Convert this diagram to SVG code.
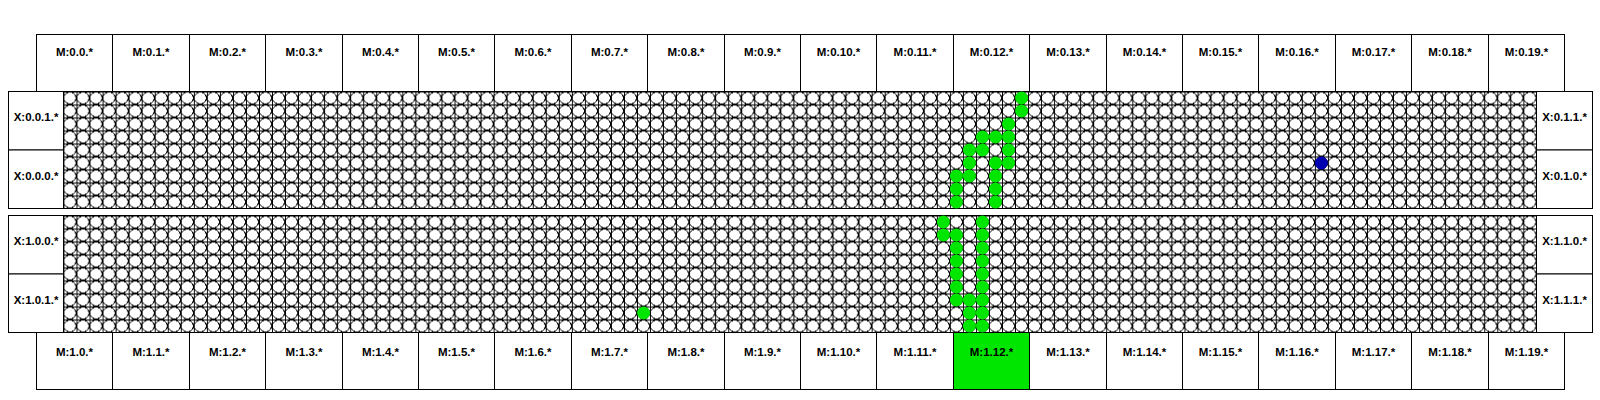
<svg xmlns="http://www.w3.org/2000/svg" xmlns:xlink="http://www.w3.org/1999/xlink" width="1600" height="400" viewBox="0 0 1600 400">
<style>
.box{fill:#fff;stroke:#000;stroke-width:1}
.hot{fill:#00e600;stroke:#000;stroke-width:1}
.lbl{font-family:"Liberation Sans",Arial,Helvetica,sans-serif;font-weight:bold;font-size:11.5px;fill:#000;text-anchor:middle}
.g{fill:#00e600}
.b{fill:#0000b0}
</style>
<defs>
<pattern id="cell" patternUnits="userSpaceOnUse" x="0" y="0" width="13.035" height="13">
<path d="M0 0H13.035M0 0V13" stroke="#000" stroke-width="2" fill="none" shape-rendering="crispEdges"/>
<circle cx="6.5175" cy="6.5" r="6" fill="#fff" stroke="#000" stroke-width="1" shape-rendering="crispEdges"/>
</pattern>
<rect id="gridrect" x="0" y="0" width="1473" height="117" fill="url(#cell)"/>
</defs>
<rect width="1600" height="400" fill="#fff"/>

<g id="chip0">
<rect class="box" x="8.5" y="91.5" width="1584" height="117"/>
<use xlink:href="#gridrect" href="#gridrect" transform="translate(63.5,91.5)"/>
</g>
<g id="chip1">
<rect class="box" x="8.5" y="215.5" width="1584" height="117"/>
<use xlink:href="#gridrect" href="#gridrect" transform="translate(63.5,215.5)"/>
</g>

<g id="X-0-0-1"><rect class="box" x="8.5" y="91.5" width="55" height="58.5"/><text class="lbl" x="36" y="121">X:0.0.1.*</text></g>
<g id="X-0-0-0"><rect class="box" x="8.5" y="150" width="55" height="58.5"/><text class="lbl" x="36" y="180">X:0.0.0.*</text></g>
<g id="X-0-1-1"><rect class="box" x="1536.5" y="91.5" width="56" height="58.5"/><text class="lbl" x="1564.5" y="121">X:0.1.1.*</text></g>
<g id="X-0-1-0"><rect class="box" x="1536.5" y="150" width="56" height="58.5"/><text class="lbl" x="1564.5" y="180">X:0.1.0.*</text></g>
<g id="X-1-0-0"><rect class="box" x="8.5" y="215.5" width="55" height="58.5"/><text class="lbl" x="36" y="245">X:1.0.0.*</text></g>
<g id="X-1-0-1"><rect class="box" x="8.5" y="274" width="55" height="58.5"/><text class="lbl" x="36" y="304">X:1.0.1.*</text></g>
<g id="X-1-1-0"><rect class="box" x="1536.5" y="215.5" width="56" height="58.5"/><text class="lbl" x="1564.5" y="245">X:1.1.0.*</text></g>
<g id="X-1-1-1"><rect class="box" x="1536.5" y="274" width="56" height="58.5"/><text class="lbl" x="1564.5" y="304">X:1.1.1.*</text></g>

<g id="M0">
<g id="M-0-0"><rect class="box" x="36.5" y="34.5" width="76" height="57"/><text class="lbl" x="74.5" y="55.5">M:0.0.*</text></g>
<g id="M-0-1"><rect class="box" x="112.5" y="34.5" width="77" height="57"/><text class="lbl" x="151" y="55.5">M:0.1.*</text></g>
<g id="M-0-2"><rect class="box" x="189.5" y="34.5" width="76" height="57"/><text class="lbl" x="227.5" y="55.5">M:0.2.*</text></g>
<g id="M-0-3"><rect class="box" x="265.5" y="34.5" width="77" height="57"/><text class="lbl" x="304" y="55.5">M:0.3.*</text></g>
<g id="M-0-4"><rect class="box" x="342.5" y="34.5" width="76" height="57"/><text class="lbl" x="380.5" y="55.5">M:0.4.*</text></g>
<g id="M-0-5"><rect class="box" x="418.5" y="34.5" width="76" height="57"/><text class="lbl" x="456.5" y="55.5">M:0.5.*</text></g>
<g id="M-0-6"><rect class="box" x="494.5" y="34.5" width="77" height="57"/><text class="lbl" x="533" y="55.5">M:0.6.*</text></g>
<g id="M-0-7"><rect class="box" x="571.5" y="34.5" width="76" height="57"/><text class="lbl" x="609.5" y="55.5">M:0.7.*</text></g>
<g id="M-0-8"><rect class="box" x="647.5" y="34.5" width="77" height="57"/><text class="lbl" x="686" y="55.5">M:0.8.*</text></g>
<g id="M-0-9"><rect class="box" x="724.5" y="34.5" width="76" height="57"/><text class="lbl" x="762.5" y="55.5">M:0.9.*</text></g>
<g id="M-0-10"><rect class="box" x="800.5" y="34.5" width="76" height="57"/><text class="lbl" x="838.5" y="55.5">M:0.10.*</text></g>
<g id="M-0-11"><rect class="box" x="876.5" y="34.5" width="77" height="57"/><text class="lbl" x="915" y="55.5">M:0.11.*</text></g>
<g id="M-0-12"><rect class="box" x="953.5" y="34.5" width="76" height="57"/><text class="lbl" x="991.5" y="55.5">M:0.12.*</text></g>
<g id="M-0-13"><rect class="box" x="1029.5" y="34.5" width="77" height="57"/><text class="lbl" x="1068" y="55.5">M:0.13.*</text></g>
<g id="M-0-14"><rect class="box" x="1106.5" y="34.5" width="76" height="57"/><text class="lbl" x="1144.5" y="55.5">M:0.14.*</text></g>
<g id="M-0-15"><rect class="box" x="1182.5" y="34.5" width="76" height="57"/><text class="lbl" x="1220.5" y="55.5">M:0.15.*</text></g>
<g id="M-0-16"><rect class="box" x="1258.5" y="34.5" width="77" height="57"/><text class="lbl" x="1297" y="55.5">M:0.16.*</text></g>
<g id="M-0-17"><rect class="box" x="1335.5" y="34.5" width="76" height="57"/><text class="lbl" x="1373.5" y="55.5">M:0.17.*</text></g>
<g id="M-0-18"><rect class="box" x="1411.5" y="34.5" width="77" height="57"/><text class="lbl" x="1450" y="55.5">M:0.18.*</text></g>
<g id="M-0-19"><rect class="box" x="1488.5" y="34.5" width="76" height="57"/><text class="lbl" x="1526.5" y="55.5">M:0.19.*</text></g>
</g>

<g id="M1">
<g id="M-1-0"><rect class="box" x="36.5" y="332.5" width="76" height="57"/><text class="lbl" x="74.5" y="355.5">M:1.0.*</text></g>
<g id="M-1-1"><rect class="box" x="112.5" y="332.5" width="77" height="57"/><text class="lbl" x="151" y="355.5">M:1.1.*</text></g>
<g id="M-1-2"><rect class="box" x="189.5" y="332.5" width="76" height="57"/><text class="lbl" x="227.5" y="355.5">M:1.2.*</text></g>
<g id="M-1-3"><rect class="box" x="265.5" y="332.5" width="77" height="57"/><text class="lbl" x="304" y="355.5">M:1.3.*</text></g>
<g id="M-1-4"><rect class="box" x="342.5" y="332.5" width="76" height="57"/><text class="lbl" x="380.5" y="355.5">M:1.4.*</text></g>
<g id="M-1-5"><rect class="box" x="418.5" y="332.5" width="76" height="57"/><text class="lbl" x="456.5" y="355.5">M:1.5.*</text></g>
<g id="M-1-6"><rect class="box" x="494.5" y="332.5" width="77" height="57"/><text class="lbl" x="533" y="355.5">M:1.6.*</text></g>
<g id="M-1-7"><rect class="box" x="571.5" y="332.5" width="76" height="57"/><text class="lbl" x="609.5" y="355.5">M:1.7.*</text></g>
<g id="M-1-8"><rect class="box" x="647.5" y="332.5" width="77" height="57"/><text class="lbl" x="686" y="355.5">M:1.8.*</text></g>
<g id="M-1-9"><rect class="box" x="724.5" y="332.5" width="76" height="57"/><text class="lbl" x="762.5" y="355.5">M:1.9.*</text></g>
<g id="M-1-10"><rect class="box" x="800.5" y="332.5" width="76" height="57"/><text class="lbl" x="838.5" y="355.5">M:1.10.*</text></g>
<g id="M-1-11"><rect class="box" x="876.5" y="332.5" width="77" height="57"/><text class="lbl" x="915" y="355.5">M:1.11.*</text></g>
<g id="M-1-12"><rect class="hot" x="953.5" y="332.5" width="76" height="57"/><text class="lbl" x="991.5" y="355.5">M:1.12.*</text></g>
<g id="M-1-13"><rect class="box" x="1029.5" y="332.5" width="77" height="57"/><text class="lbl" x="1068" y="355.5">M:1.13.*</text></g>
<g id="M-1-14"><rect class="box" x="1106.5" y="332.5" width="76" height="57"/><text class="lbl" x="1144.5" y="355.5">M:1.14.*</text></g>
<g id="M-1-15"><rect class="box" x="1182.5" y="332.5" width="76" height="57"/><text class="lbl" x="1220.5" y="355.5">M:1.15.*</text></g>
<g id="M-1-16"><rect class="box" x="1258.5" y="332.5" width="77" height="57"/><text class="lbl" x="1297" y="355.5">M:1.16.*</text></g>
<g id="M-1-17"><rect class="box" x="1335.5" y="332.5" width="76" height="57"/><text class="lbl" x="1373.5" y="355.5">M:1.17.*</text></g>
<g id="M-1-18"><rect class="box" x="1411.5" y="332.5" width="77" height="57"/><text class="lbl" x="1450" y="355.5">M:1.18.*</text></g>
<g id="M-1-19"><rect class="box" x="1488.5" y="332.5" width="76" height="57"/><text class="lbl" x="1526.5" y="355.5">M:1.19.*</text></g>
</g>

<g id="dots0">
<circle class="g" cx="1021.57" cy="98" r="6.5"/>
<circle class="g" cx="1021.57" cy="111" r="6.5"/>
<circle class="g" cx="1008.54" cy="124" r="6.5"/>
<circle class="g" cx="982.47" cy="137" r="6.5"/>
<circle class="g" cx="995.5" cy="137" r="6.5"/>
<circle class="g" cx="1008.54" cy="137" r="6.5"/>
<circle class="g" cx="969.43" cy="150" r="6.5"/>
<circle class="g" cx="982.47" cy="150" r="6.5"/>
<circle class="g" cx="1008.54" cy="150" r="6.5"/>
<circle class="g" cx="969.43" cy="163" r="6.5"/>
<circle class="g" cx="995.5" cy="163" r="6.5"/>
<circle class="g" cx="1008.54" cy="163" r="6.5"/>
<circle class="g" cx="956.4" cy="176" r="6.5"/>
<circle class="g" cx="969.43" cy="176" r="6.5"/>
<circle class="g" cx="995.5" cy="176" r="6.5"/>
<circle class="g" cx="956.4" cy="189" r="6.5"/>
<circle class="g" cx="995.5" cy="189" r="6.5"/>
<circle class="g" cx="956.4" cy="202" r="6.5"/>
<circle class="g" cx="995.5" cy="202" r="6.5"/>
<circle class="b" cx="1321.38" cy="163" r="6.5"/>
</g>
<g id="dots1">
<circle class="g" cx="943.36" cy="222" r="6.5"/>
<circle class="g" cx="982.47" cy="222" r="6.5"/>
<circle class="g" cx="943.36" cy="235" r="6.5"/>
<circle class="g" cx="956.4" cy="235" r="6.5"/>
<circle class="g" cx="982.47" cy="235" r="6.5"/>
<circle class="g" cx="956.4" cy="248" r="6.5"/>
<circle class="g" cx="982.47" cy="248" r="6.5"/>
<circle class="g" cx="956.4" cy="261" r="6.5"/>
<circle class="g" cx="982.47" cy="261" r="6.5"/>
<circle class="g" cx="956.4" cy="274" r="6.5"/>
<circle class="g" cx="982.47" cy="274" r="6.5"/>
<circle class="g" cx="956.4" cy="287" r="6.5"/>
<circle class="g" cx="982.47" cy="287" r="6.5"/>
<circle class="g" cx="956.4" cy="300" r="6.5"/>
<circle class="g" cx="969.43" cy="300" r="6.5"/>
<circle class="g" cx="982.47" cy="300" r="6.5"/>
<circle class="g" cx="969.43" cy="313" r="6.5"/>
<circle class="g" cx="982.47" cy="313" r="6.5"/>
<circle class="g" cx="969.43" cy="326" r="6.5"/>
<circle class="g" cx="982.47" cy="326" r="6.5"/>
<circle class="g" cx="643.56" cy="313" r="6.5"/>
</g>
</svg>
